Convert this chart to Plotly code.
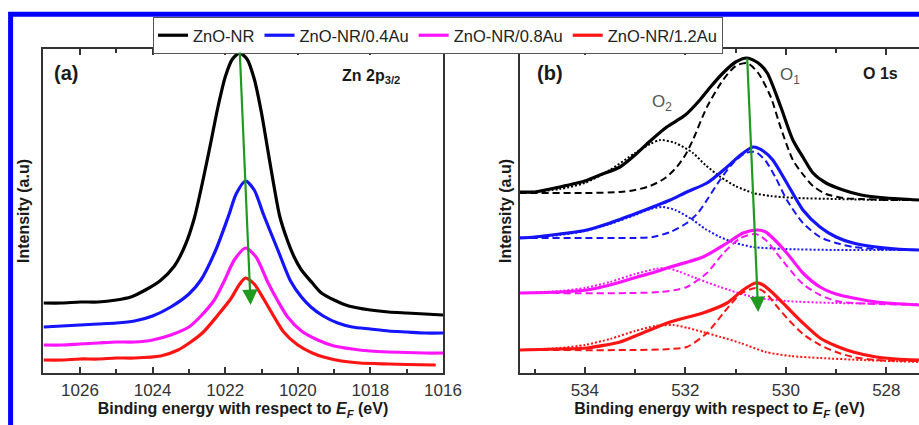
import plotly.graph_objects as go

# ---------------- Panel (a): Zn 2p3/2 ----------------
zn_black_E = [1027.0, 1026.5, 1026.0, 1025.5, 1025.0, 1024.6, 1024.2, 1023.8, 1023.4, 1023.1, 1022.85,
              1022.6, 1022.4, 1022.2, 1022.0, 1021.8, 1021.6, 1021.4, 1021.2, 1021.0, 1020.85, 1020.7,
              1020.5, 1020.3, 1020.1, 1019.9, 1019.6, 1019.35, 1019.0, 1018.6, 1018.0, 1017.5, 1017.0,
              1016.5, 1016.0]
zn_black_I = [70, 70, 71, 71, 73, 76, 83, 92, 107, 128, 155,
              195, 230, 266, 296, 314, 320, 314, 294, 260, 228, 196,
              157, 134, 116, 103, 90, 80, 73, 67, 63, 61, 60,
              59, 58]

zn_blue_E = [1027.0, 1026.5, 1026.0, 1025.5, 1025.0, 1024.5, 1024.0, 1023.5, 1023.0, 1022.67, 1022.26,
             1021.9, 1021.7, 1021.44, 1021.2, 1020.94, 1020.55, 1020.2, 1019.9, 1019.64, 1019.3, 1018.9,
             1018.5, 1018.0, 1017.5, 1017.0, 1016.5, 1016.0]
zn_blue_I = [46, 47, 48, 49, 50, 52, 57, 66, 79, 93, 123,
             158, 179, 192, 183, 158, 123, 92, 76, 66, 57, 50,
             46, 44, 42, 41, 40, 40]

zn_mag_E = [1027.0, 1026.5, 1026.0, 1025.5, 1025.0, 1024.5, 1024.0, 1023.5, 1023.0, 1022.67, 1022.3,
            1022.04, 1021.75, 1021.44, 1021.15, 1020.83, 1020.55, 1020.28, 1019.9, 1019.45, 1019.0, 1018.5,
            1018.0, 1017.5, 1017.0, 1016.5, 1016.0]
zn_mag_I = [28, 28, 29, 30, 31, 31, 33, 38, 46, 57, 73,
            91, 113, 125, 116, 91, 72, 56, 42, 33, 27, 24,
            22, 21, 20.5, 20, 20]

zn_red_E = [1027.0, 1026.5, 1026.0, 1025.5, 1025.0, 1024.5, 1023.78, 1023.3, 1022.95, 1022.6, 1022.2,
            1021.85, 1021.6, 1021.44, 1021.2, 1020.94, 1020.65, 1020.39, 1020.0, 1019.6, 1019.29, 1018.8,
            1018.3, 1017.5, 1017.0, 1016.2]
zn_red_I = [13, 13, 14, 14, 15, 15, 17, 23, 31, 41, 58,
            74, 89, 95, 89, 74, 56, 41, 28, 20, 16, 12,
            10, 9, 8.5, 8]

# ---------------- Panel (b): O 1s ----------------
o_black_E = [535.3, 535.0, 534.5, 534.0, 533.7, 533.3, 533.0, 532.7, 532.37, 532.0, 531.71, 531.5, 531.25,
             531.0, 530.77, 530.55, 530.37, 530.1, 529.86, 529.65, 529.46, 529.2, 528.86, 528.5, 528.0, 527.35]
o_black_I = [181, 181, 186, 192, 198, 206, 218, 232, 246, 258, 273, 286, 300,
             311, 315, 310, 300, 266, 233, 215, 200, 190, 183, 178, 175, 173]
o_black_O1_E = [535.3, 534.0, 533.3, 533.0, 532.7, 532.4, 532.17, 532.0, 531.85, 531.57, 531.25, 531.0,
                530.77, 530.55, 530.3, 530.1, 529.86, 529.65, 529.46, 529.2, 528.86, 528.5, 528.0, 527.35]
o_black_O1_I = [180, 180, 181, 183, 187, 195, 206, 218, 233, 266, 293, 307,
                310, 300, 276, 245, 213, 198, 187, 179, 175, 174, 173, 173]
o_black_O2_E = [535.3, 534.5, 534.0, 533.5, 533.0, 532.7, 532.5, 532.2, 531.85, 531.6, 531.3, 531.0,
                530.65, 530.3, 529.8, 529.0, 528.0, 527.35]
o_black_O2_I = [180, 184, 190, 203, 220, 229, 233, 230, 220, 208, 196, 187,
                180, 177, 175, 174, 173, 173]

o_blue_E = [535.3, 535.0, 534.5, 533.96, 533.5, 532.96, 532.6, 532.3, 531.97, 531.57, 531.17, 530.9,
            530.65, 530.45, 530.26, 529.98, 529.66, 529.32, 529.0, 528.66, 528.2, 527.8, 527.35]
o_blue_I = [135, 136, 139, 143, 150, 160, 167, 173, 181, 190, 206, 218,
            226, 222, 213, 190, 163, 146, 136, 130, 126, 124, 123]
o_blue_O1_E = [535.3, 534.0, 533.0, 532.65, 532.3, 531.97, 531.75, 531.57, 531.31, 531.05, 530.8, 530.6,
               530.4, 530.2, 529.98, 529.66, 529.32, 529.0, 528.66, 528.2, 527.35]
o_blue_O1_I = [135, 135, 135, 136, 141, 150, 160, 173, 193, 210, 220, 221,
               212, 195, 173, 150, 136, 130, 126, 124, 123]
o_blue_O2_E = [535.3, 534.5, 534.0, 533.5, 533.0, 532.7, 532.45, 532.2, 531.85, 531.6, 531.31, 531.0,
               530.65, 530.0, 529.0, 527.35]
o_blue_O2_I = [135, 138, 142, 149, 158, 164, 166, 163, 153, 144, 136, 130,
               126, 124, 123, 123]

o_mag_E = [535.3, 534.5, 533.96, 533.5, 532.96, 532.6, 532.3, 531.65, 531.17, 530.85, 530.57, 530.4,
           530.26, 529.98, 529.66, 529.32, 529.0, 528.66, 528.2, 527.35]
o_mag_I = [80, 81, 83, 88, 96, 101, 106, 116, 130, 140, 143, 141,
           135, 120, 100, 86, 79, 75, 71, 68]
o_mag_O1_E = [535.3, 533.0, 532.5, 532.2, 531.97, 531.57, 531.24, 530.9, 530.6, 530.4, 530.2, 529.98,
              529.66, 529.32, 529.0, 528.66, 528.2, 527.35]
o_mag_O1_I = [80, 80, 81, 83, 86, 100, 120, 135, 139, 133, 121, 107,
              89, 78, 72, 70, 69, 68]
o_mag_O2_E = [535.3, 534.5, 534.0, 533.5, 533.0, 532.6, 532.37, 532.1, 531.85, 531.31, 530.65, 530.0,
              529.0, 527.35]
o_mag_O2_I = [80, 82, 85, 91, 99, 104, 105, 101, 96, 86, 76, 72,
              70, 69]

o_red_E = [535.3, 534.5, 533.96, 533.3, 532.85, 532.3, 531.65, 531.17, 530.85, 530.6, 530.45, 530.26,
           529.98, 529.66, 529.32, 529.0, 528.66, 528.2, 527.8, 527.35]
o_red_I = [23, 24, 25, 31, 40, 51, 60, 70, 83, 90, 88, 80,
           66, 50, 35, 27, 21, 16, 14, 13]
o_red_O1_E = [535.3, 533.0, 532.3, 531.97, 531.57, 531.24, 530.9, 530.6, 530.4, 530.2, 529.98, 529.66,
              529.32, 529.0, 528.66, 528.2, 527.35]
o_red_O1_I = [23, 23, 24, 26, 40, 60, 79, 85, 80, 68, 55, 39,
              28, 21, 16, 13, 12]
o_red_O2_E = [535.3, 534.5, 534.0, 533.5, 533.0, 532.6, 532.24, 531.95, 531.65, 531.3, 530.9, 530.4,
              529.9, 529.32, 528.5, 527.35]
o_red_O2_I = [23, 25, 28, 34, 42, 47, 48, 45, 41, 36, 30, 21,
              17, 15, 13, 11]

series_names = ["ZnO-NR", "ZnO-NR/0.4Au", "ZnO-NR/0.8Au", "ZnO-NR/1.2Au"]
series_colors = ["#000000", "#1414ff", "#ff14ff", "#ff1414"]

zn_data = [(zn_black_E, zn_black_I), (zn_blue_E, zn_blue_I), (zn_mag_E, zn_mag_I), (zn_red_E, zn_red_I)]
o_data = [
    (o_black_E, o_black_I, o_black_O1_E, o_black_O1_I, o_black_O2_E, o_black_O2_I),
    (o_blue_E, o_blue_I, o_blue_O1_E, o_blue_O1_I, o_blue_O2_E, o_blue_O2_I),
    (o_mag_E, o_mag_I, o_mag_O1_E, o_mag_O1_I, o_mag_O2_E, o_mag_O2_I),
    (o_red_E, o_red_I, o_red_O1_E, o_red_O1_I, o_red_O2_E, o_red_O2_I),
]

# arrow end-points (peak shift)
arrow_a = dict(x0=1021.6, y0=322, x1=1021.3, y1=68)
arrow_b = dict(x0=530.77, y0=316, x1=530.55, y1=61)

W, H = 919, 425
FONT = "Liberation Sans, Arial, sans-serif"

fig = go.Figure()

for (E, I), name, col in zip(zn_data, series_names, series_colors):
    fig.add_trace(go.Scatter(
        x=E, y=I, name=name, mode="lines",
        line=dict(color=col, width=3.2, shape="spline", smoothing=0.7),
        xaxis="x", yaxis="y", showlegend=True, legendgroup=name))

for (E, I, E1, I1, E2, I2), name, col in zip(o_data, series_names, series_colors):
    fig.add_trace(go.Scatter(
        x=E, y=I, name=name, mode="lines",
        line=dict(color=col, width=3.2, shape="spline", smoothing=0.7),
        xaxis="x2", yaxis="y2", showlegend=False, legendgroup=name))
    fig.add_trace(go.Scatter(
        x=E1, y=I1, name=name + " O1", mode="lines",
        line=dict(color=col, width=2, dash="7px,4px", shape="spline", smoothing=0.7),
        xaxis="x2", yaxis="y2", showlegend=False, legendgroup=name))
    fig.add_trace(go.Scatter(
        x=E2, y=I2, name=name + " O2", mode="lines",
        line=dict(color=col, width=2, dash="2px,2px", shape="spline", smoothing=0.7),
        xaxis="x2", yaxis="y2", showlegend=False, legendgroup=name))

axis_common = dict(
    automargin=False,
    showline=True, linecolor="#333333", linewidth=1.5,
    ticks="inside", ticklen=6, tickwidth=1.5, tickcolor="#333333",
    showgrid=False, zeroline=False,
    tickfont=dict(family=FONT, size=17, color="#333333"),
    minor=dict(ticks="inside", ticklen=4, tickwidth=1.5, tickcolor="#333333", dtick=1, showgrid=False),
    title=dict(text="<b>Binding energy with respect to <i>E</i><sub><i>F</i></sub> (eV)</b>",
               font=dict(family=FONT, size=16, color="#1a1a1a"), standoff=3),
    ticklabelstandoff=1,
)

yaxis_common = dict(
    automargin=False,
    showline=True, linecolor="#333333", linewidth=1.5,
    showticklabels=False, ticks="", showgrid=False, zeroline=False,
    range=[0, 324],
    title=dict(text="<b>Intensity (a.u)</b>", font=dict(family=FONT, size=16, color="#1a1a1a"),
               standoff=8),
)

xa_dom = [43 / W, 443 / W]
xb_dom = [520 / W, 1.0]
y_dom = [1 - 373 / H, 1 - 49 / H]

fig.update_layout(
    template="none",
    width=W, height=H,
    margin=dict(l=0, r=0, t=0, b=0, autoexpand=False),
    paper_bgcolor="white", plot_bgcolor="white",
    font=dict(family=FONT, color="#222222"),
    xaxis=dict(axis_common, domain=xa_dom, range=[1027.02, 1016.0], dtick=2, tick0=1016,
               mirror="allticks", anchor="y"),
    yaxis=dict(yaxis_common, domain=y_dom, mirror=True, anchor="x"),
    xaxis2=dict(axis_common, domain=xb_dom, range=[535.29, 527.35], dtick=2, tick0=528,
                mirror="allticks", anchor="y2"),
    yaxis2=dict(yaxis_common, domain=y_dom, mirror=False, anchor="x2",
                title=dict(text="<b>Intensity (a.u)</b>",
                           font=dict(family=FONT, size=16, color="#1a1a1a"), standoff=3)),
    legend=dict(orientation="h", x=153 / W, y=1 - 17 / H, xanchor="left", yanchor="top",
                bordercolor="#555555", borderwidth=1, bgcolor="white",
                font=dict(family=FONT, size=16.5, color="#222222"),
                itemwidth=30, tracegroupgap=0),
    showlegend=True,
)

# blue frame around the figure
fig.add_shape(type="rect", xref="paper", yref="paper",
              x0=10.6 / W, x1=1.02, y0=-0.05, y1=1 - 14.3 / H,
              line=dict(color="#0000ff", width=5), fillcolor="rgba(0,0,0,0)", layer="above")

ann = []
ann.append(dict(x=arrow_a["x1"], y=arrow_a["y1"], ax=arrow_a["x0"], ay=arrow_a["y0"],
                xref="x", yref="y", axref="x", ayref="y", text="", showarrow=True,
                arrowhead=2, arrowsize=1.4, arrowwidth=2.2, arrowcolor="#1f9a1f"))
ann.append(dict(x=arrow_b["x1"], y=arrow_b["y1"], ax=arrow_b["x0"], ay=arrow_b["y0"],
                xref="x2", yref="y2", axref="x2", ayref="y2", text="", showarrow=True,
                arrowhead=2, arrowsize=1.4, arrowwidth=2.2, arrowcolor="#1f9a1f"))

def ptext(txt, x, y, size, color="#1a1a1a", xanchor="left"):
    ann.append(dict(text=txt, x=x / W, y=1 - y / H, xref="paper", yref="paper",
                    xanchor=xanchor, yanchor="middle", showarrow=False,
                    font=dict(family=FONT, size=size, color=color)))

ptext("<b>(a)</b>", 52, 73, 20)
ptext("<b>Zn 2p<sub>3/2</sub></b>", 340, 77, 16)
ptext("<b>(b)</b>", 535, 73, 20)
ptext("<b>O 1s</b>", 861, 73, 16)
ptext("O<sub>1</sub>", 778, 76, 17, color="#555555")
ptext("O<sub>2</sub>", 650, 103, 17, color="#555555")

fig.update_layout(annotations=ann)

fig.write_html("out.html", config={"displayModeBar": False},
               post_script="document.body.style.margin='0';document.body.style.overflow='hidden';")
